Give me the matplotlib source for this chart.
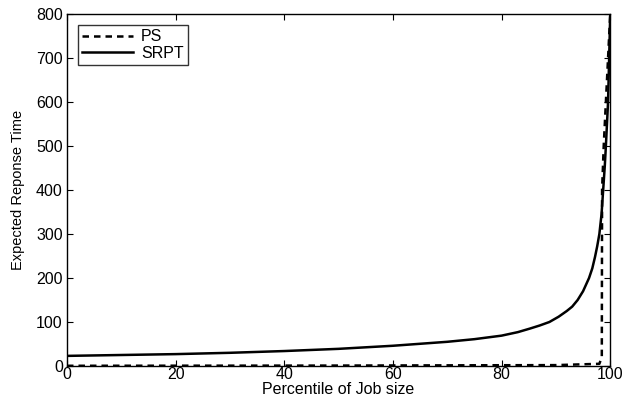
import matplotlib
matplotlib.use('Agg')
import matplotlib.pyplot as plt

plt.rcParams['font.family'] = ['Liberation Sans', 'DejaVu Sans']

# Percentile of job size vs expected response time
srpt_pct = [0, 10, 20, 30, 40, 50, 60, 70, 75, 80, 83, 85.2, 87, 88.8, 90.5, 92, 93, 94, 95, 96.1,
            96.7, 97.2, 97.6, 98.0, 98.4, 98.7, 99.0, 99.2, 99.4, 99.6, 99.8, 100]
srpt_val = [23, 25, 27, 30, 34, 39, 46, 55, 61, 69, 77, 85, 92, 100, 112, 125, 135, 150, 170, 200,
            222, 248, 272, 300, 345, 400, 455, 500, 550, 600, 700, 800]

ps_pct = [0, 50, 90, 98, 98.45, 98.5, 98.8, 99.2, 99.6, 100]
ps_val = [0.5, 1, 2, 5, 20, 400, 500, 600, 700, 800]

fig = plt.figure(figsize=(6.23, 4.05), dpi=100)
ax = fig.add_axes([0.1075, 0.0963, 0.872, 0.869])

ax.plot(ps_pct, ps_val, '--', color='black', lw=1.8, dashes=(2.6, 2.0), label='PS')
ax.plot(srpt_pct, srpt_val, '-', color='black', lw=1.8, label='SRPT')

ax.set_xlim(0, 100)
ax.set_ylim(0, 800)
ax.set_xticks(range(0, 101, 20))
ax.set_yticks(range(0, 801, 100))
ax.tick_params(direction='in', top=True, right=True, labelsize=11.5, length=4)
ax.tick_params(axis='x', pad=1)
ax.tick_params(axis='y', pad=3)
for s in ax.spines.values():
    s.set_linewidth(1.0)

ax.set_xlabel('Percentile of Job size', fontsize=11.5, labelpad=0)
ax.set_ylabel('Expected Reponse Time', fontsize=10.5, labelpad=8)

leg = ax.legend(loc='upper left', fontsize=11.5, frameon=True, fancybox=False,
                edgecolor='black', handlelength=3.2, borderaxespad=0.7,
                labelspacing=0.1, borderpad=0.25, handletextpad=0.5)
leg.get_frame().set_linewidth(1.0)

fig.savefig('out.png', dpi=100)
